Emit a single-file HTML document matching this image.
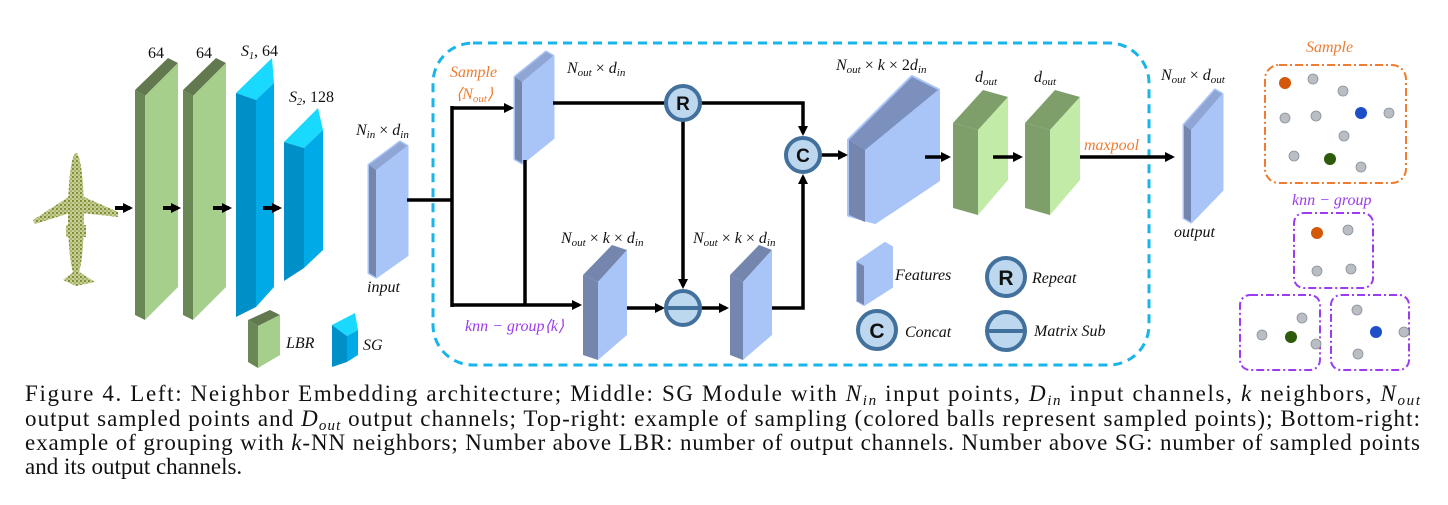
<!DOCTYPE html>
<html><head><meta charset="utf-8"><style>
html,body{margin:0;padding:0;background:#fff;}
svg{display:block;}
.m{font-family:"Liberation Serif",serif;font-style:italic;font-size:16px;fill:#111;}
.cap{font-family:"Liberation Serif",serif;font-size:23px;fill:#111;}
</style></head><body>
<svg width="1448" height="505" viewBox="0 0 1448 505" xmlns="http://www.w3.org/2000/svg">
<defs>
<marker id="ah" markerWidth="10" markerHeight="10" refX="7" refY="5" orient="auto" markerUnits="userSpaceOnUse"><path d="M0,0 L10,5 L0,10 z" fill="#000"/></marker>
<pattern id="dots" width="4" height="4" patternUnits="userSpaceOnUse"><rect width="4" height="4" fill="#c9cf9a"/><circle cx="1" cy="1" r="1.1" fill="#7d8a2e"/><circle cx="3" cy="3" r="0.9" fill="#98a24a"/></pattern>
</defs>

<g fill="url(#dots)">
<ellipse cx="76" cy="215" rx="8" ry="62"/>
<polygon points="33,220 70,196 82,196 118,212 118,217 82,213 70,213 35,224"/>
<polygon points="63,280 76,270 95,282 76,286"/>
<rect x="66" y="225" width="20" height="12"/>
</g>

<g>
<polygon points="135,90 168,58 178,63 145,96" fill="#62794f"/>
<polygon points="135,90 145,96 145,320 135,315" fill="#6a8756"/>
<polygon points="145,96 178,63 178,287 145,320" fill="#a6cf8c"/>
<polygon points="183,90 216,58 226,63 193,96" fill="#62794f"/>
<polygon points="183,90 193,96 193,320 183,315" fill="#6a8756"/>
<polygon points="193,96 226,63 226,287 193,320" fill="#a6cf8c"/>
</g>
<polygon points="236,93 272,58 274,83 256,100" fill="#19d9ff"/>
<polygon points="236,93 256,100 256,307 236,317" fill="#0090c8"/>
<polygon points="256,100 274,83 274,287 256,307" fill="#00aae6"/>
<polygon points="284,142 318,108 323,130 304,148" fill="#19d9ff"/>
<polygon points="284,142 304,148 304,268 284,281" fill="#0090c8"/>
<polygon points="304,148 323,130 323,250 304,268" fill="#00aae6"/>
<g stroke="#000" stroke-width="4" marker-end="url(#ah)">
<line x1="115" y1="208" x2="130" y2="208"/>
<line x1="163" y1="208" x2="178" y2="208"/>
<line x1="213" y1="208" x2="229" y2="208"/>
<line x1="263" y1="208" x2="279" y2="208"/>
</g>
<text class="m" x="148" y="58" style="font-style:normal">64</text>
<text class="m" x="196" y="58" style="font-style:normal">64</text>
<text class="m" x="241" y="56">S<tspan font-size="10" dy="3">1</tspan><tspan dy="-3" style="font-style:normal">, 64</tspan></text>
<text class="m" x="289" y="102">S<tspan font-size="10" dy="3">2</tspan><tspan dy="-3" style="font-style:normal">, 128</tspan></text>
<polygon points="248,320 270,310 280,315 258,326" fill="#62794f"/>
<polygon points="248,320 258,326 258,368 248,362" fill="#6a8756"/>
<polygon points="258,326 280,315 280,355 258,368" fill="#a6cf8c"/>
<text class="m" x="286" y="348" font-size="17">LBR</text>
<polygon points="332,325 355,313 358,330 347,336" fill="#19d9ff"/>
<polygon points="332,325 347,336 347,362 332,367" fill="#0090c8"/>
<polygon points="347,336 358,330 358,355 347,362" fill="#00aae6"/>
<text class="m" x="363" y="350" font-size="17">SG</text>

<polygon points="369,165 400,142 407,146 407,255 376,277 369,273" fill="#a9c5f7" stroke="#a9c5f7" stroke-width="3" stroke-linejoin="round"/>
<polygon points="369,165 376,170 376,277 369,273" fill="#7486ad"/>
<polygon points="369,165 400,142 407,146 376,170" fill="#8fa6d4"/>
<text class="m" x="356" y="135">N<tspan font-size="11" dy="3">in</tspan><tspan dy="-3" style="font-style:normal"> × </tspan>d<tspan font-size="11" dy="3">in</tspan></text>
<text class="m" x="367" y="292">input</text>

<rect x="433" y="43" width="716" height="322" rx="40" fill="none" stroke="#18b4ea" stroke-width="3" stroke-dasharray="9,6"/>

<polygon points="515,77 546,52 553,56 553,138 522,163 515,159" fill="#a9c5f7" stroke="#a9c5f7" stroke-width="3" stroke-linejoin="round"/>
<polygon points="515,77 522,82 522,163 515,159" fill="#7486ad"/>
<polygon points="515,77 546,52 553,56 522,82" fill="#8fa6d4"/>
<g>
<polygon points="583,275 612,245 627,250 598,282" fill="#7486ad"/>
<polygon points="583,275 598,282 598,360 583,355" fill="#7486ad"/>
<polygon points="598,282 627,250 627,335 598,360" fill="#a9c5f7"/>
<polygon points="730,275 759,245 772,250 743,282" fill="#7486ad"/>
<polygon points="730,275 743,282 743,360 730,355" fill="#7486ad"/>
<polygon points="743,282 772,250 772,335 743,360" fill="#a9c5f7"/>
</g>
<polygon points="849,140 912,77 938,90 938,180 875,222 849,215" fill="#a9c5f7" stroke="#a9c5f7" stroke-width="4" stroke-linejoin="round"/>
<polygon points="849,140 865,150 865,222 849,215" fill="#7486ad"/>
<polygon points="849,140 912,77 938,90 865,150" fill="#7b90bd"/>
<polygon points="953,123 983,90 1008,97 978,130" fill="#7e9e6a"/>
<polygon points="953,123 978,130 978,215 953,208" fill="#7e9e6a"/>
<polygon points="978,130 1008,97 1008,180 978,215" fill="#c3eba8"/>
<polygon points="1025,123 1055,90 1080,97 1050,130" fill="#7e9e6a"/>
<polygon points="1025,123 1050,130 1050,215 1025,208" fill="#7e9e6a"/>
<polygon points="1050,130 1080,97 1080,180 1050,215" fill="#c3eba8"/>
<polygon points="1184,125 1215,90 1222,94 1222,190 1191,222 1184,218" fill="#a9c5f7" stroke="#a9c5f7" stroke-width="3" stroke-linejoin="round"/>
<polygon points="1184,125 1191,130 1191,222 1184,218" fill="#7486ad"/>
<polygon points="1184,125 1215,90 1222,94 1191,130" fill="#8fa6d4"/>

<g stroke="#000" stroke-width="3.5" fill="none">
<polyline points="407,200 452,200"/>
<line x1="452" y1="106" x2="452" y2="307"/>
<line x1="525" y1="160" x2="525" y2="305"/>
<line x1="452" y1="108" x2="511" y2="108" marker-end="url(#ah)"/>
<line x1="452" y1="305" x2="579" y2="305" marker-end="url(#ah)"/>
<line x1="553" y1="103" x2="666" y2="103"/>
<polyline points="700,103 803,103 803,133" marker-end="url(#ah)"/>
<line x1="683" y1="120" x2="683" y2="286" marker-end="url(#ah)"/>
<line x1="627" y1="308" x2="662" y2="308" marker-end="url(#ah)"/>
<line x1="700" y1="308" x2="726" y2="308" marker-end="url(#ah)"/>
<polyline points="772,308 803,308 803,177" marker-end="url(#ah)"/>
<line x1="821" y1="155" x2="845" y2="155" marker-end="url(#ah)"/>
<line x1="925" y1="157" x2="948" y2="157" marker-end="url(#ah)"/>
<line x1="993" y1="157" x2="1020" y2="157" marker-end="url(#ah)"/>
<line x1="1080" y1="157" x2="1172" y2="157" marker-end="url(#ah)"/>
</g>
<g stroke="#41719c" stroke-width="4" fill="#bdd7ee">
<circle cx="683" cy="103" r="17"/>
<circle cx="803" cy="155" r="17"/>
<circle cx="683" cy="308" r="17"/>
<line x1="666" y1="308" x2="700" y2="308"/>
</g>
<text x="683" y="110" text-anchor="middle" font-family="Liberation Sans,sans-serif" font-weight="bold" font-size="19" fill="#111">R</text>
<text x="803" y="162" text-anchor="middle" font-family="Liberation Sans,sans-serif" font-weight="bold" font-size="19" fill="#111">C</text>

<text class="m" x="450" y="77" style="fill:#ee7d31">Sample</text>
<text class="m" x="456" y="99" style="fill:#ee7d31">⟨N<tspan font-size="11" dy="3">out</tspan><tspan dy="-3">⟩</tspan></text>
<text class="m" x="567" y="73">N<tspan font-size="11" dy="3">out</tspan><tspan dy="-3" style="font-style:normal"> × </tspan>d<tspan font-size="11" dy="3">in</tspan></text>
<text class="m" x="561" y="243">N<tspan font-size="11" dy="3">out</tspan><tspan dy="-3" style="font-style:normal"> × </tspan>k<tspan style="font-style:normal"> × </tspan>d<tspan font-size="11" dy="3">in</tspan></text>
<text class="m" x="693" y="243">N<tspan font-size="11" dy="3">out</tspan><tspan dy="-3" style="font-style:normal"> × </tspan>k<tspan style="font-style:normal"> × </tspan>d<tspan font-size="11" dy="3">in</tspan></text>
<text class="m" x="465" y="331" style="fill:#9b3cf0">knn − group⟨k⟩</text>
<text class="m" x="836" y="70">N<tspan font-size="11" dy="3">out</tspan><tspan dy="-3" style="font-style:normal"> × </tspan>k<tspan style="font-style:normal"> × 2</tspan>d<tspan font-size="11" dy="3">in</tspan></text>
<text class="m" x="975" y="82">d<tspan font-size="11" dy="3">out</tspan></text>
<text class="m" x="1034" y="82">d<tspan font-size="11" dy="3">out</tspan></text>
<text class="m" x="1084" y="150" style="fill:#ee7d31">maxpool</text>
<text class="m" x="1161" y="80">N<tspan font-size="11" dy="3">out</tspan><tspan dy="-3" style="font-style:normal"> × </tspan>d<tspan font-size="11" dy="3">out</tspan></text>
<text class="m" x="1174" y="237">output</text>

<polygon points="857,262 885,243 892,247 892,287 864,305 857,301" fill="#a9c5f7" stroke="#a9c5f7" stroke-width="2" stroke-linejoin="round"/>
<polygon points="857,262 864,266 864,305 857,301" fill="#7486ad"/>
<text class="m" x="895" y="280" font-size="17">Features</text>
<g stroke="#41719c" stroke-width="4" fill="#bdd7ee">
<circle cx="1006" cy="277" r="19"/>
<circle cx="877" cy="330" r="19"/>
<circle cx="1006" cy="331" r="19"/>
<line x1="987" y1="331" x2="1025" y2="331"/>
</g>
<text x="1006" y="285" text-anchor="middle" font-family="Liberation Sans,sans-serif" font-weight="bold" font-size="21" fill="#111">R</text>
<text x="877" y="338" text-anchor="middle" font-family="Liberation Sans,sans-serif" font-weight="bold" font-size="21" fill="#111">C</text>
<text class="m" x="1032" y="283" font-size="17">Repeat</text>
<text class="m" x="905" y="337" font-size="17">Concat</text>
<text class="m" x="1034" y="336" font-size="17">Matrix Sub</text>

<text class="m" x="1306" y="52" style="fill:#ee7d31">Sample</text>
<rect x="1265" y="65" width="141" height="118" rx="14" fill="none" stroke="#ee7d31" stroke-width="2" stroke-dasharray="8,3,2,3"/>
<text class="m" x="1292" y="205" style="fill:#9b3cf0">knn − group</text>
<g fill="none" stroke="#9b3cf0" stroke-width="2" stroke-dasharray="8,3,2,3">
<rect x="1294" y="213" width="79" height="75" rx="10"/>
<rect x="1240" y="295" width="80" height="75" rx="10"/>
<rect x="1331" y="295" width="78" height="75" rx="10"/>
</g>
<g fill="#b9bec4" stroke="#8a9096" stroke-width="0.8">
<circle cx="1313" cy="79" r="5"/><circle cx="1343" cy="91" r="5"/><circle cx="1285" cy="118" r="5"/><circle cx="1316" cy="116" r="5"/><circle cx="1389" cy="113" r="5"/><circle cx="1344" cy="136" r="5"/><circle cx="1294" cy="156" r="5"/><circle cx="1361" cy="167" r="5"/>
<circle cx="1348" cy="230" r="5"/><circle cx="1317" cy="271" r="5"/><circle cx="1351" cy="269" r="5"/>
<circle cx="1302" cy="318" r="5"/><circle cx="1262" cy="335" r="5"/><circle cx="1316" cy="344" r="5"/>
<circle cx="1357" cy="310" r="5"/><circle cx="1404" cy="332" r="5"/><circle cx="1358" cy="354" r="5"/>
</g>
<g>
<circle cx="1285" cy="83" r="6" fill="#d4580a"/><circle cx="1361" cy="113" r="6" fill="#1f4fc8"/><circle cx="1330" cy="159" r="6" fill="#2e5a0c"/>
<circle cx="1317" cy="233" r="6" fill="#d4580a"/><circle cx="1291" cy="337" r="6" fill="#2e5a0c"/><circle cx="1376" cy="332" r="6" fill="#1f4fc8"/>
</g>

<text class="cap" x="25" y="401" textLength="1395" lengthAdjust="spacing">Figure 4.   Left: Neighbor Embedding architecture; Middle: SG Module with <tspan font-style="italic">N</tspan><tspan font-style="italic" font-size="15" dy="4">in</tspan><tspan dy="-4"> input points, </tspan><tspan font-style="italic">D</tspan><tspan font-style="italic" font-size="15" dy="4">in</tspan><tspan dy="-4"> input channels, </tspan><tspan font-style="italic">k</tspan> neighbors, <tspan font-style="italic">N</tspan><tspan font-style="italic" font-size="15" dy="4">out</tspan></text>
<text class="cap" x="25" y="426" textLength="1395" lengthAdjust="spacing">output sampled points and <tspan font-style="italic">D</tspan><tspan font-style="italic" font-size="15" dy="4">out</tspan><tspan dy="-4"> output channels; Top-right: example of sampling (colored balls represent sampled points); Bottom-right:</tspan></text>
<text class="cap" x="25" y="450" textLength="1395" lengthAdjust="spacing">example of grouping with <tspan font-style="italic">k</tspan>-NN neighbors; Number above LBR: number of output channels. Number above SG: number of sampled points</text>
<text class="cap" x="25" y="474">and its output channels.</text>
</svg>
</body></html>
